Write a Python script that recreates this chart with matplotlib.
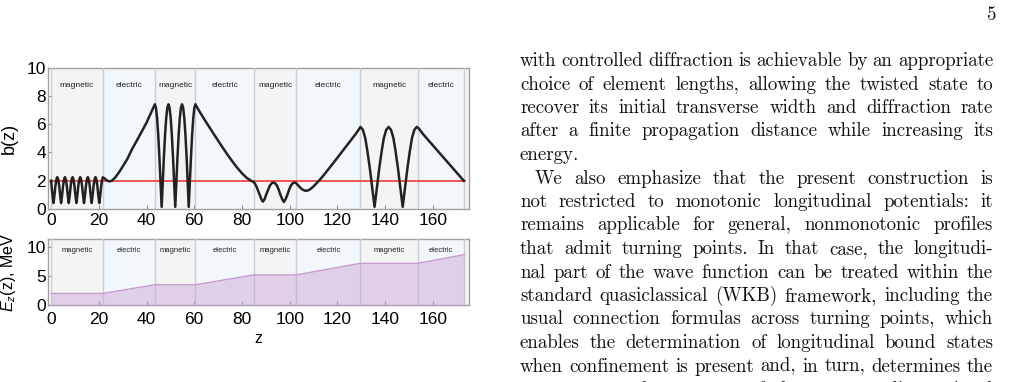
import matplotlib
matplotlib.use("Agg")
import matplotlib.pyplot as plt
import matplotlib.transforms as mtransforms
import numpy as np

# ---------------- data ----------------
region_bounds = [0, 21.7, 43.5, 60.5, 85, 102.8, 129.7, 153.7, 173.2, 175.2]
region_kinds = ["magnetic", "electric", "magnetic", "electric", "magnetic",
                "electric", "magnetic", "electric", "magnetic"]
region_labels = ["magnetic", "electric", "magnetic", "electric", "magnetic",
                 "electric", "magnetic", "electric", ""]

z_b = [0.0, 0.2, 0.6, 1.0, 1.4, 1.8, 2.2, 2.6, 3.0, 3.4, 3.8, 4.2, 4.6, 5.0, 5.4, 5.8,
       6.2, 6.6, 7.0, 7.4, 7.8, 8.2, 8.6, 9.0, 9.4, 9.8, 10.2, 10.6, 11.0, 11.4, 11.8,
       12.2, 12.6, 13.0, 13.4, 13.8, 14.2, 14.6, 15.0, 15.4, 15.8, 16.2, 16.6, 17.0,
       17.4, 17.8, 18.2, 18.6, 19.0, 19.4, 19.8, 20.2, 20.6, 21.0, 21.4, 21.7,
       22.5, 23.5, 24.5, 25.5, 27.0, 28.5, 30.0, 32.0, 34.0, 36.0, 38.0, 40.0, 42.0,
       43.5, 43.97, 44.44, 44.92, 45.39, 45.87, 46.35, 46.82, 47.3, 47.77, 48.25, 48.72,
       49.2, 49.67, 50.15, 50.62, 51.1, 51.57, 52.05, 52.52, 53.0, 53.47, 53.95, 54.42,
       54.9, 55.37, 55.85, 56.32, 56.8, 57.27, 57.7, 58.17, 58.65, 59.12, 59.6, 60.05,
       60.5, 62.0, 64.0, 66.0, 68.0, 70.0, 72.0, 74.0, 76.0, 78.0, 80.0, 82.0, 84.0,
       85.0, 85.5, 86.2, 86.9, 87.6, 88.2, 88.8, 89.5, 90.2, 91.0, 91.7, 92.5, 93.2,
       93.9, 94.7, 95.4, 96.1, 96.9, 97.6, 98.3, 99.1, 99.8, 100.5, 101.3, 102.0, 102.8,
       103.5, 104.5, 105.5, 106.5, 107.5, 108.5, 109.5, 110.5, 111.5, 112.5, 114.0,
       116.0, 118.0, 120.0, 122.0, 124.0, 126.0, 128.0, 129.7,
       130.7, 131.7, 132.6, 133.6, 134.6, 135.6, 136.6, 137.6, 138.6, 139.5, 140.5,
       141.5, 142.5, 143.5, 144.4, 145.4, 146.4, 147.4, 148.4, 149.4, 150.4, 151.3,
       152.3, 153.3, 154.0, 156.0, 160.0, 165.0, 170.0, 173.0]
b_vals = [2.0, 1.62, 0.95, 0.42, 0.95, 1.62, 2.08, 2.25, 2.08, 1.62, 0.95, 0.42, 0.95, 1.62, 2.08, 2.25,
          2.08, 1.62, 0.95, 0.42, 0.95, 1.62, 2.08, 2.25, 2.08, 1.62, 0.95, 0.42, 0.95, 1.62, 2.08,
          2.25, 2.08, 1.62, 0.95, 0.42, 0.95, 1.62, 2.08, 2.25, 2.08, 1.62, 0.95, 0.42,
          0.95, 1.62, 2.08, 2.25, 2.08, 1.62, 0.95, 0.42, 0.95, 1.62, 2.08, 2.24,
          2.15, 2.0, 1.95, 2.0, 2.25, 2.6, 3.0, 3.55, 4.25, 4.85, 5.47, 6.1, 6.85,
          7.4, 7.15, 6.41, 5.23, 3.70, 1.92, 0.15, 1.92, 3.70, 5.23, 6.41, 7.15,
          7.4, 7.15, 6.41, 5.23, 3.70, 1.92, 0.15, 1.92, 3.70, 5.23, 6.41, 7.15,
          7.4, 7.15, 6.41, 5.23, 3.70, 1.92, 0.15, 1.92, 3.70, 5.23, 6.41, 7.15,
          7.4, 6.95, 6.4, 5.87, 5.35, 4.83, 4.32, 3.83, 3.36, 2.92, 2.53, 2.2, 1.98,
          1.9, 1.78, 1.55, 1.25, 0.95, 0.68, 0.52, 0.69, 1.03, 1.37, 1.65, 1.82, 1.88,
          1.82, 1.65, 1.37, 1.03, 0.69, 0.5, 0.69, 1.03, 1.37, 1.65, 1.82, 1.88, 1.82,
          1.68, 1.5, 1.36, 1.29, 1.3, 1.38, 1.52, 1.68, 1.86, 2.04, 2.33,
          2.75, 3.18, 3.62, 4.06, 4.5, 4.93, 5.37, 5.8,
          5.6, 5.02, 4.1, 2.9, 1.5, 0.15, 1.5, 2.9, 4.1, 5.02, 5.6,
          5.8, 5.6, 5.02, 4.1, 2.9, 1.5, 0.15, 1.5, 2.9, 4.1, 5.02,
          5.6, 5.8, 5.72, 5.28, 4.51, 3.54, 2.58, 2.0]

ref_z = [0, 173.6]
ref_b = [2.0, 2.0]

z_E = [0, 21.7, 43.5, 60.5, 85, 102.8, 129.7, 153.7, 173.2]
E_vals = [2.0, 2.0, 3.5, 3.5, 5.2, 5.2, 7.2, 7.2, 8.7]

x_ticks = [0, 20, 40, 60, 80, 100, 120, 140, 160]
b_ticks = [0, 2, 4, 6, 8, 10]
E_ticks = [0, 5, 10]

text_lines = [
    "with controlled diffraction is achievable by an appropriate",
    "choice of element lengths, allowing the twisted state to",
    "recover its initial transverse width and diffraction rate",
    "after a finite propagation distance while increasing its",
    "energy.",
    "We also emphasize that the present construction is",
    "not restricted to monotonic longitudinal potentials: it",
    "remains applicable for general, nonmonotonic profiles",
    "that admit turning points. In that case, the longitudi-",
    "nal part of the wave function can be treated within the",
    "standard quasiclassical (WKB) framework, including the",
    "usual connection formulas across turning points, which",
    "enables the determination of longitudinal bound states",
    "when confinement is present and, in turn, determines the",
    "transverse mode structure of the corresponding twisted",
]
justified = [True, True, True, True, False, True, True, True, True, True,
             True, True, True, True, True]
indented = [False, False, False, False, False, True, False, False, False, False,
            False, False, False, False, False]
page_number = "5"

# ---------------- figure ----------------
W, H = 1017, 382
plt.rcParams['font.family'] = ['Liberation Sans', 'DejaVu Sans']
plt.rcParams['mathtext.fontset'] = 'custom'
plt.rcParams['mathtext.it'] = 'Liberation Sans:italic'
plt.rcParams['mathtext.rm'] = 'Liberation Sans'
fig = plt.figure(figsize=(W / 100, H / 100), dpi=100)

def px_axes(left, top, right, bottom):
    return fig.add_axes([left / W, 1 - bottom / H, (right - left) / W, (bottom - top) / H])

ax1 = px_axes(48, 67.5, 469, 209)
ax2 = px_axes(48, 239, 469, 305)

MAG = '#f4f4f4'
ELE = '#f2f7fc'
BND = '#cccccc'
XL = (-1.3, 175.2)

def shade(ax, label_y, fs):
    for i, kind in enumerate(region_kinds):
        a, b = region_bounds[i], region_bounds[i + 1]
        ax.axvspan(a, b, color=MAG if kind == "magnetic" else ELE, lw=0, zorder=0)
        if region_labels[i]:
            ax.text((a + b) / 2, label_y, region_labels[i], transform=ax.get_xaxis_transform(),
                    ha='center', va='center', fontsize=fs, color='#222222', zorder=5)
    for x in region_bounds[:-1]:
        ax.axvline(x, color=BND, lw=1.0, zorder=3)

for ax in (ax1, ax2):
    ax.set_xlim(*XL)
    ax.set_xticks(x_ticks)
    for s in ax.spines.values():
        s.set_color('#a0a0a0')
        s.set_linewidth(1.0)
    ax.tick_params(direction='in', length=3, width=0.8, color='#888888',
                   labelsize=12.5, pad=1.5)
    ax.tick_params(axis='x', pad=3)

shade(ax1, 0.875, 6)
ax1.plot(ref_z, ref_b, color='#f04848', lw=1.3, zorder=6)
ax1.plot(z_b, b_vals, color='#222222', lw=1.8, zorder=7, solid_joinstyle='round')
ax1.set_ylim(0, 10)
ax1.set_yticks(b_ticks)
ax1.set_ylabel('b(z)', fontsize=13)

shade(ax2, 0.83, 5.5)
ax2.fill_between(z_E, 0, E_vals, color='#c9a2d6', alpha=0.45, lw=0, zorder=4)
ax2.plot(z_E, E_vals, color='#c79bd2', lw=1.0, zorder=4)
ax2.set_ylim(0, 11.4)
ax2.set_yticks(E_ticks)
ax2.set_ylabel(r'$E_z$(z), MeV', fontsize=11.5)
ax2.set_xlabel('z', fontsize=11.5, labelpad=3)
ax2.tick_params(axis='x', pad=5)

ax1.yaxis.set_label_coords(-0.072, 0.5)
ax2.yaxis.set_label_coords(-0.072, 0.5)

# ---------------- right column text ----------------
ident = mtransforms.IdentityTransform()
renderer = fig.canvas.get_renderer()
FS = 13.6
X0, X1 = 520, 993
Y_FIRST = 66
PITCH = 23.5
INDENT = 15

def put(x, y_top, s):
    return fig.text(x, H - y_top, s, transform=ident, fontsize=FS, family='cmr10',
                    color='#111111', va='baseline', ha='left')

for i, line in enumerate(text_lines):
    y = Y_FIRST + i * PITCH
    x0 = X0 + (INDENT if indented[i] else 0)
    words = line.split(' ')
    objs = [put(0, y, w) for w in words]
    widths = [o.get_window_extent(renderer).width for o in objs]
    if justified[i] and len(words) > 1:
        gap = (X1 - x0 - sum(widths)) / (len(words) - 1)
    else:
        gap = FS * 100 / 72 * 0.333
    x = x0
    for o, w in zip(objs, widths):
        o.set_x(x)
        x += w + gap

fig.text(996, H - 20, page_number, transform=ident, fontsize=FS, family='cmr10',
         color='#111111', va='baseline', ha='right')

fig.savefig('out.png', dpi=100)
